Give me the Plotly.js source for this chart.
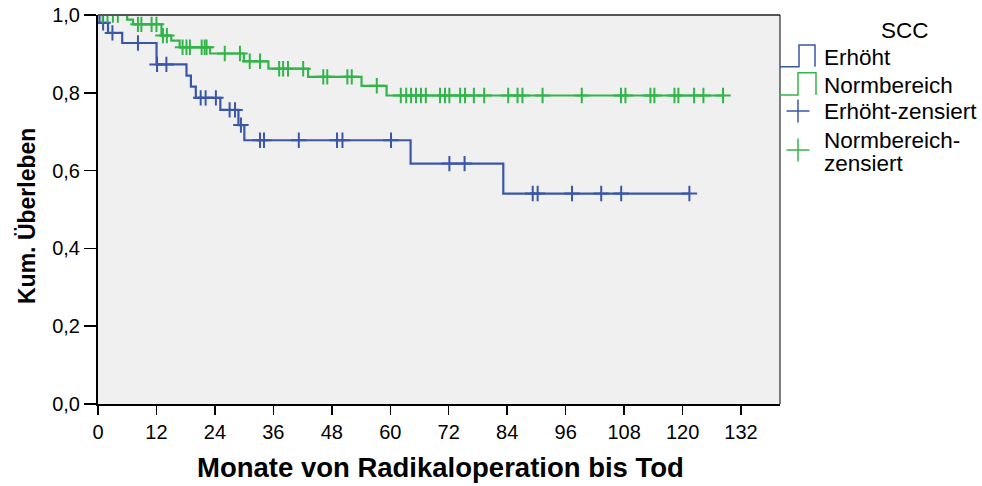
<!DOCTYPE html>
<html>
<head>
<meta charset="utf-8">
<script src="https://cdn.plot.ly/plotly-3.0.1.min.js"></script>
<style>html,body{margin:0;padding:0;background:#fff;}#chart{width:982px;height:486px;}</style>
</head>
<body>
<div id="chart"></div>
<script>
// Kaplan-Meier step data (time in months, survival after the step)
const erhoehtEventT = [0, 0.3, 2.05, 4.97, 12.02, 18.16, 19.07, 20.08, 25.11, 28.83, 30.04, 64.17, 83.2];
const erhoehtEventS = [1.0, 0.980, 0.954, 0.928, 0.873, 0.844, 0.816, 0.787, 0.756, 0.717, 0.678, 0.618, 0.541];
const erhoehtCensT = [1.05, 2.96, 8.2, 12.12, 14.04, 21.08, 22.09, 24.2, 27.02, 28.13, 29.34, 33.26, 34.07, 41.22, 49.07, 50.18, 60.15, 72.13, 75.25, 89.24, 90.25, 97.3, 103.3, 107.4, 121.4];

const normEventT = [0, 5.98, 7.19, 13.03, 15.04, 16.75, 23.0, 29.94, 34.98, 43.13, 54.1, 59.24];
const normEventS = [1.0, 0.988, 0.976, 0.947, 0.934, 0.917, 0.901, 0.881, 0.862, 0.841, 0.818, 0.793];
const normCensT = [0.95, 1.95, 3.06, 4.07, 8.2, 8.9, 11.0, 12.0, 13.33, 14.14, 17.36, 18.16, 18.87, 21.28, 21.89, 22.29, 26.02, 29.14, 31.15, 33.26, 37.19, 38.0, 39.0, 42.12, 46.25, 47.06, 51.19, 52.09, 57.23, 62.16, 63.27, 64.27, 65.28, 66.29, 67.3, 70.21, 71.22, 72.13, 74.34, 75.35, 77.16, 79.28, 84.21, 86.12, 87.13, 91.26, 99.31, 107.36, 108.27, 113.4, 114.21, 118.34, 119.14, 122.37, 124.28, 128.31];

const xTickVals = [0, 12, 24, 36, 48, 60, 72, 84, 96, 108, 120, 132];
const yTickVals = [0, 0.2, 0.4, 0.6, 0.8, 1.0];

const seriesNames = ["Erhöht", "Normbereich", "Erhöht-zensiert", "Normbereich-zensiert"];
const legendTitle = "SCC";
const xTitle = "Monate von Radikaloperation bis Tod";
const yTitle = "Kum. Überleben";

const BLUE = "#3a56a8";
const GREEN = "#33b44a";

function survAt(tArr, sArr, t) {
  let s = sArr[0];
  for (let i = 0; i < tArr.length; i++) { if (tArr[i] <= t) s = sArr[i]; }
  return s;
}
function stepLine(tArr, sArr, censT) {
  const endT = Math.max(...censT);
  return { x: tArr.concat([endT]), y: sArr.concat([sArr[sArr.length - 1]]) };
}

const bLine = stepLine(erhoehtEventT, erhoehtEventS, erhoehtCensT);
const gLine = stepLine(normEventT, normEventS, normCensT);

const traces = [
  { x: bLine.x, y: bLine.y, mode: "lines", line: { shape: "hv", color: BLUE, width: 2.2 }, name: seriesNames[0], showlegend: false, hoverinfo: "skip" },
  { x: gLine.x, y: gLine.y, mode: "lines", line: { shape: "hv", color: GREEN, width: 2.2 }, name: seriesNames[1], showlegend: false, hoverinfo: "skip" },
  { x: erhoehtCensT, y: erhoehtCensT.map(t => survAt(erhoehtEventT, erhoehtEventS, t)), mode: "markers", name: seriesNames[2], showlegend: false,
    marker: { symbol: "cross-thin", size: 11, color: BLUE, line: { color: BLUE, width: 2 } } },
  { x: normCensT, y: normCensT.map(t => survAt(normEventT, normEventS, t)), mode: "markers", name: seriesNames[3], showlegend: false,
    marker: { symbol: "cross-thin", size: 11, color: GREEN, line: { color: GREEN, width: 2 } } }
];

// legend geometry in pixels -> paper
const L = 98, R = 780, T = 15, B = 404;
const W = R - L, H = B - T;
const px = x => (x - L) / W;
const py = y => (B - y) / H;

function stepIcon(y0, y1, xa, xb, color) {
  return { type: "path", xref: "paper", yref: "paper", layer: "above",
    path: `M ${px(R)} ${py(y0)} L ${px(xa)} ${py(y0)} L ${px(xa)} ${py(y1)} L ${px(xb)} ${py(y1)} L ${px(xb)} ${py(y0)}`,
    line: { color: color, width: 1.5 } };
}
function plusIcon(cx, cy, half, color) {
  return [
    { type: "line", xref: "paper", yref: "paper", x0: px(cx - half), x1: px(cx + half), y0: py(cy), y1: py(cy), line: { color: color, width: 1.5 } },
    { type: "line", xref: "paper", yref: "paper", x0: px(cx), x1: px(cx), y0: py(cy - half), y1: py(cy + half), line: { color: color, width: 1.5 } }
  ];
}

const shapes = [
  { type: "line", xref: "paper", yref: "paper", x0: 0, x1: 1, y0: 1, y1: 1, line: { color: "#555", width: 2 } },
  { type: "line", xref: "paper", yref: "paper", x0: 1, x1: 1, y0: 0, y1: 1, line: { color: "#000", width: 1 } },
  stepIcon(66.7, 45, 799, 815, BLUE),
  stepIcon(95, 72.7, 798, 816, GREEN),
  ...plusIcon(798, 111, 11.5, BLUE),
  ...plusIcon(798, 150, 11.5, GREEN)
];

const FAM = "Liberation Sans, Arial, sans-serif";
const lf = { family: FAM, size: 22.5, color: "#000" };
function ann(text, x, y, anchor, font, extra) {
  return Object.assign({ text: text, x: px(x), y: py(y), xref: "paper", yref: "paper", showarrow: false, xanchor: anchor, yanchor: "middle", font: font }, extra || {});
}
const annotations = [
  ann(legendTitle, 905, 31, "center", lf),
  ann(seriesNames[0], 822, 58, "left", lf),
  ann(seriesNames[1], 822, 85, "left", lf),
  ann(seriesNames[2], 822, 111, "left", lf),
  ann("Normbereich-", 822, 140, "left", lf),
  ann("zensiert", 822, 163, "left", lf),
  ann(xTitle, 440, 467, "center", { family: FAM, size: 27.5, color: "#000", weight: "bold" }),
  ann(yTitle, 27, 216, "center", { family: FAM, size: 23, color: "#000", weight: "bold" }, { textangle: -90 })
];

const tickFont = { family: FAM, size: 20, color: "#000" };
const layout = {
  width: 982, height: 486,
  margin: { l: L, r: 982 - R, t: T, b: 486 - B },
  paper_bgcolor: "#ffffff",
  plot_bgcolor: "#f0f0f0",
  separators: ",.",
  showlegend: false,
  xaxis: {
    range: [0, 140], tickvals: xTickVals, ticks: "outside", ticklen: 9, tickwidth: 1.5, tickcolor: "#000",
    showline: true, linecolor: "#000", linewidth: 2, showgrid: false, zeroline: false,
    tickfont: tickFont
  },
  yaxis: {
    range: [0, 1], tickvals: yTickVals, tickformat: ".1f", ticks: "outside", ticklen: 12, tickwidth: 1.5, tickcolor: "#000",
    showline: true, linecolor: "#000", linewidth: 2, showgrid: false, zeroline: false,
    tickfont: tickFont
  },
  shapes: shapes,
  annotations: annotations
};

Plotly.newPlot("chart", traces, layout, { displayModeBar: false, staticPlot: true });
</script>
</body>
</html>
